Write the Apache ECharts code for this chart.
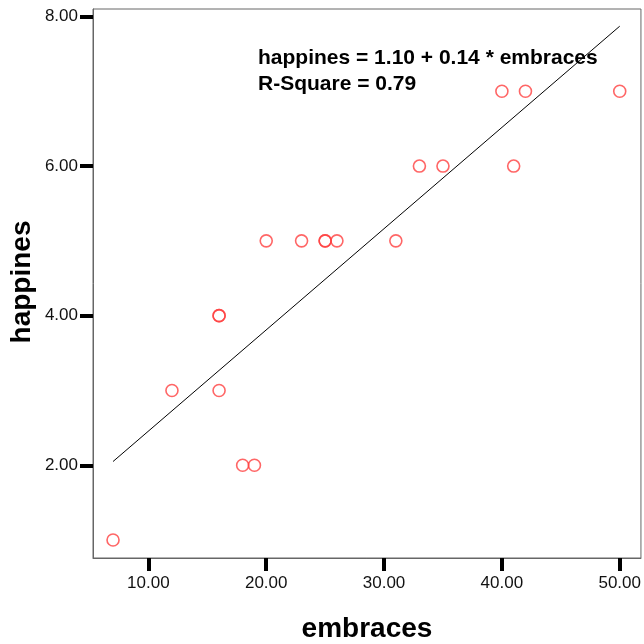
<!DOCTYPE html>
<html><head><meta charset="utf-8">
<script src="https://cdn.jsdelivr.net/npm/echarts@6/dist/echarts.min.js"></script>
<style>html,body{margin:0;padding:0;background:#fff}#c{width:644px;height:644px}</style>
</head><body><div id="c"></div>
<script>
const embraces = [7, 12, 16, 16, 16, 18, 19, 20, 23, 25, 25, 26, 31, 33, 35, 41, 40, 42, 50];
const happines = [1, 3, 4, 4, 3, 2, 2, 5, 5, 5, 5, 5, 5, 6, 6, 6, 7, 7, 7];
const fitX = [7, 50];
const fitY = [2.05, 7.87];
const xTicks = [10, 20, 30, 40, 50];
const yTicks = [2, 4, 6, 8];
const eqText = ['happines = 1.10 + 0.14 * embraces', 'R-Square = 0.79'];

const pts = embraces.map((x, i) => [x, happines[i]]);
const line = fitX.map((x, i) => [x, fitY[i]]);
const F = 'Liberation Sans, Arial, sans-serif';

const chart = echarts.init(document.getElementById('c'));
chart.setOption({
  animation: false,
  backgroundColor: '#fff',
  grid: {left: 93, top: 9, right: 2, bottom: 86, show: true, borderColor: '#666', borderWidth: 1, backgroundColor: 'transparent'},
  xAxis: {
    type: 'value', min: 5.3, max: 51.8,
    splitLine: {show: false},
    axisLine: {show: true, lineStyle: {color: '#666', width: 1}},
    axisTick: {show: true, customValues: xTicks, length: 13, lineStyle: {color: '#000', width: 4}},
    axisLabel: {customValues: xTicks, margin: 17, color: '#111', fontSize: 17, fontFamily: F, formatter: v => v.toFixed(2)}
  },
  yAxis: {
    type: 'value', min: 0.76, max: 8.1,
    splitLine: {show: false},
    axisLine: {show: true, lineStyle: {color: '#666', width: 1}},
    axisTick: {show: true, customValues: yTicks, length: 13, lineStyle: {color: '#000', width: 4}},
    axisLabel: {customValues: yTicks, margin: 15, color: '#111', fontSize: 17, fontFamily: F, formatter: v => v.toFixed(2)}
  },
  graphic: [
    {type: 'text', x: 22, y: 282, rotation: Math.PI / 2, style: {text: 'happines', font: 'bold 28px ' + F, fill: '#000', align: 'center', verticalAlign: 'middle'}},
    {type: 'text', x: 367, y: 629, style: {text: 'embraces', font: 'bold 28px ' + F, fill: '#000', align: 'center', verticalAlign: 'middle'}},
    {type: 'text', x: 258, y: 58, style: {text: eqText[0], font: 'bold 21px ' + F, fill: '#000', align: 'left', verticalAlign: 'middle'}},
    {type: 'text', x: 258, y: 84, style: {text: eqText[1], font: 'bold 21px ' + F, fill: '#000', align: 'left', verticalAlign: 'middle'}}
  ],
  series: [
    {type: 'line', data: line, symbol: 'none', lineStyle: {color: '#000', width: 1}, z: 2},
    {type: 'scatter', data: pts, symbol: 'circle', symbolSize: 12, itemStyle: {color: 'transparent', borderColor: '#ff4040', borderWidth: 1.6}, z: 3}
  ]
});
</script></body></html>
